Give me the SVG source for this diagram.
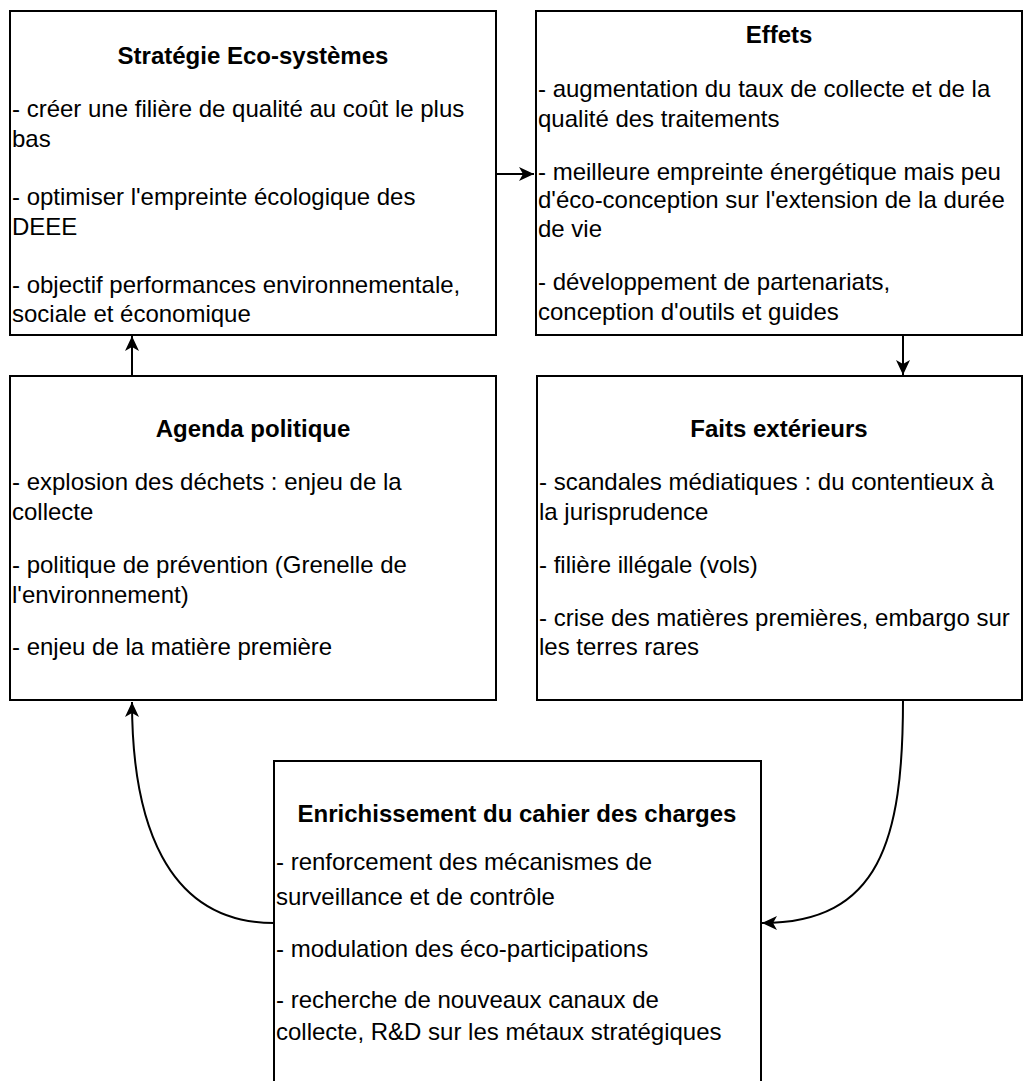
<svg xmlns="http://www.w3.org/2000/svg" width="1023" height="1081" viewBox="0 0 1023 1081">
<style>
.box{fill:#fff;stroke:#000;stroke-width:2}
.t{font-family:"Liberation Sans",Arial,sans-serif;font-size:24px;fill:#000}
.h{font-weight:bold;text-anchor:middle}
.c{fill:none;stroke:#000;stroke-width:2}
</style>
<defs>
<marker id="arr" viewBox="-16 -8 18 16" refX="0" refY="0" markerWidth="18" markerHeight="16" markerUnits="userSpaceOnUse" orient="auto">
<path d="M0,0 L-15,-7 L-11,0 L-15,7 Z" fill="#000"/>
</marker>
</defs>
<rect width="1023" height="1081" fill="#fff"/>
<g id="connectors">
<path class="c" d="M497,174 L534,174" marker-end="url(#arr)"/>
<path class="c" d="M903,335 L903,375" marker-end="url(#arr)"/>
<path class="c" d="M132,376 L132,336" marker-end="url(#arr)"/>
<path class="c" d="M274,923 C165,923 132,820 132,702" marker-end="url(#arr)"/>
<path class="c" d="M903,700 C903,840 880,923 762,923" marker-end="url(#arr)"/>
</g>
<g id="strategie">
<rect class="box" x="10" y="11" width="486" height="324"/>
<text class="t h" x="253" y="64">Stratégie Eco-systèmes</text>
<text class="t" x="12" y="117">- créer une filière de qualité au coût le plus</text>
<text class="t" x="12" y="147">bas</text>
<text class="t" x="12" y="205">- optimiser l'empreinte écologique des</text>
<text class="t" x="12" y="235">DEEE</text>
<text class="t" x="12" y="293">- objectif performances environnementale,</text>
<text class="t" x="12" y="322">sociale et économique</text>
</g>
<g id="effets">
<rect class="box" x="536" y="11" width="486" height="324"/>
<text class="t h" x="779" y="43">Effets</text>
<text class="t" x="538" y="97">- augmentation du taux de collecte et de la</text>
<text class="t" x="538" y="127">qualité des traitements</text>
<text class="t" x="538" y="180">- meilleure empreinte énergétique mais peu</text>
<text class="t" x="538" y="208">d'éco-conception sur l'extension de la durée</text>
<text class="t" x="538" y="237">de vie</text>
<text class="t" x="538" y="290">- développement de partenariats,</text>
<text class="t" x="538" y="320">conception d'outils et guides</text>
</g>
<g id="agenda">
<rect class="box" x="10" y="376" width="486" height="324"/>
<text class="t h" x="253" y="437">Agenda politique</text>
<text class="t" x="12" y="490">- explosion des déchets : enjeu de la</text>
<text class="t" x="12" y="520">collecte</text>
<text class="t" x="12" y="573">- politique de prévention (Grenelle de</text>
<text class="t" x="12" y="603">l'environnement)</text>
<text class="t" x="12" y="655">- enjeu de la matière première</text>
</g>
<g id="faits">
<rect class="box" x="537" y="376" width="485" height="324"/>
<text class="t h" x="779" y="437">Faits extérieurs</text>
<text class="t" x="539" y="490">- scandales médiatiques : du contentieux à</text>
<text class="t" x="539" y="520">la jurisprudence</text>
<text class="t" x="539" y="573">- filière illégale (vols)</text>
<text class="t" x="539" y="626">- crise des matières premières, embargo sur</text>
<text class="t" x="539" y="655">les terres rares</text>
</g>
<g id="enrichissement">
<rect class="box" x="274" y="761" width="487" height="340"/>
<text class="t h" x="517" y="822">Enrichissement du cahier des charges</text>
<text class="t" x="276" y="870">- renforcement des mécanismes de</text>
<text class="t" x="276" y="905">surveillance et de contrôle</text>
<text class="t" x="276" y="957">- modulation des éco-participations</text>
<text class="t" x="276" y="1008">- recherche de nouveaux canaux de</text>
<text class="t" x="276" y="1040">collecte, R&amp;D sur les métaux stratégiques</text>
</g>
</svg>
